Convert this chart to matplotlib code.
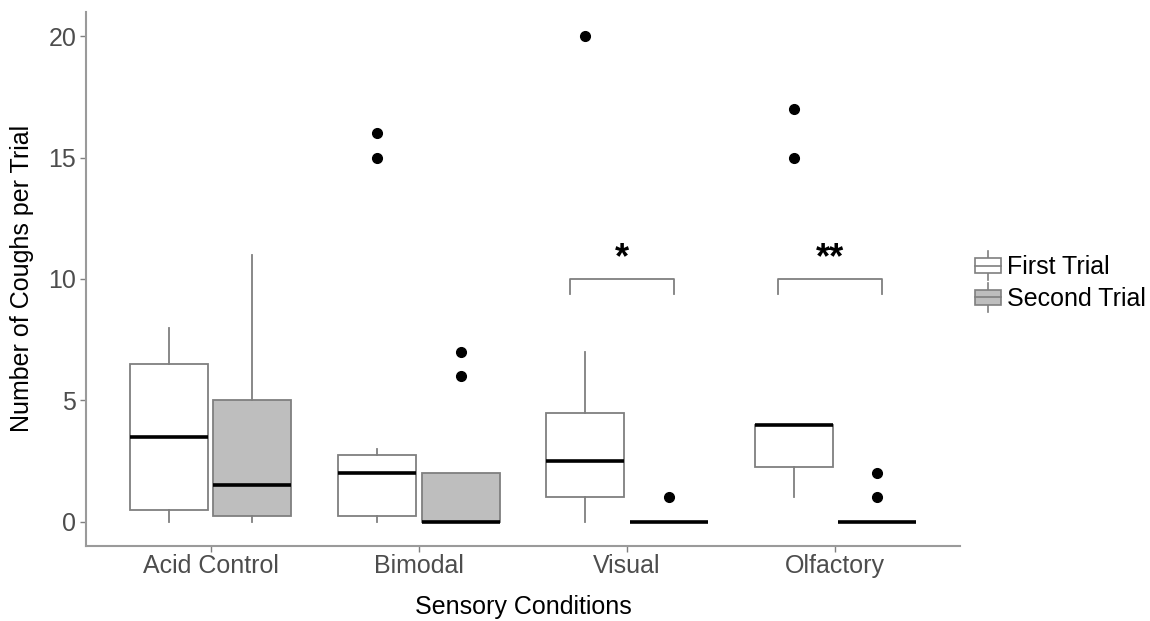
import matplotlib
matplotlib.use("Agg")
import matplotlib.pyplot as plt
from matplotlib.patches import Rectangle
from matplotlib.lines import Line2D
from matplotlib.legend_handler import HandlerBase

plt.rcParams['font.family'] = ['Liberation Sans', 'DejaVu Sans']

categories = ["Acid Control", "Bimodal", "Visual", "Olfactory"]
series = ["First Trial", "Second Trial"]

# box statistics
first_q1 = [0.5, 0.25, 1.0, 2.25]
first_med = [3.5, 2.0, 2.5, 4.0]
first_q3 = [6.5, 2.75, 4.5, 4.0]
first_lo = [0, 0, 0, 1]
first_hi = [8, 3, 7, 4]
first_out = [[], [15, 16], [20], [15, 17]]

second_q1 = [0.25, 0, 0, 0]
second_med = [1.5, 0, 0, 0]
second_q3 = [5.0, 2.0, 0, 0]
second_lo = [0, 0, 0, 0]
second_hi = [11, 2, 0, 0]
second_out = [[], [6, 7], [1], [1, 2]]

sig_categories = ["Visual", "Olfactory"]
sig_labels = ["*", "**"]
sig_height = 10

fills = ["white", "#BEBEBE"]
edge = "#7F7F7F"

fig = plt.figure(figsize=(11.5, 6.21), dpi=100)
ax = fig.add_axes([86/1150, 1 - 546/621, (960-86)/1150, (546-12)/621])

def stats(q1, med, q3, lo, hi, out):
    return [dict(q1=a, med=b, q3=c, whislo=d, whishi=e, fliers=f)
            for a, b, c, d, e, f in zip(q1, med, q3, lo, hi, out)]

xpos = list(range(1, len(categories) + 1))
width = 0.375
dodge = 0.2
groups = [stats(first_q1, first_med, first_q3, first_lo, first_hi, first_out),
          stats(second_q1, second_med, second_q3, second_lo, second_hi, second_out)]
offsets = [-dodge, dodge]
for g, off, fc in zip(groups, offsets, fills):
    ax.bxp(g, positions=[p + off for p in xpos], widths=width, patch_artist=True,
           showcaps=False,
           boxprops=dict(facecolor=fc, edgecolor=edge, linewidth=1.3),
           whiskerprops=dict(color=edge, linewidth=1.3),
           medianprops=dict(color="black", linewidth=2.6, solid_capstyle='butt'),
           flierprops=dict(marker='o', markerfacecolor='black', markeredgecolor='black',
                           markersize=7))

# significance brackets
for cat, lab in zip(sig_categories, sig_labels):
    c = xpos[categories.index(cat)]
    x0, x1 = c - 0.275, c + 0.225
    ax.plot([x0, x0, x1, x1], [sig_height - 0.6, sig_height, sig_height, sig_height - 0.6],
            color=edge, linewidth=1.3)
    ax.text((x0 + x1) / 2, sig_height + 0.1, lab, ha='center', va='bottom',
            fontsize=26, fontweight='bold', color='black')

ax.set_xlim(0.4, 4.6)
ax.set_ylim(-1, 21)
ax.set_xticks(xpos)
ax.set_xticklabels(categories)
ax.set_yticks([0, 5, 10, 15, 20])
ax.tick_params(axis='both', colors='#7F7F7F', labelcolor='#4D4D4D', labelsize=18,
               length=4, width=1.0, pad=3)
ax.tick_params(axis='x', pad=1.5)
for s in ['top', 'right']:
    ax.spines[s].set_visible(False)
for s in ['left', 'bottom']:
    ax.spines[s].set_color('#9A9A9A')
    ax.spines[s].set_linewidth(1.5)

fig.text(523/1150, 1 - 607/621, "Sensory Conditions", ha='center', va='center', fontsize=18)
fig.text(22/1150, 1 - 278/621, "Number of Coughs per Trial", ha='center', va='center',
         rotation=90, fontsize=18)


class BoxHandler(HandlerBase):
    def create_artists(self, legend, orig_handle, xdescent, ydescent, width, height,
                       fontsize, trans):
        fc = orig_handle.get_facecolor()
        x0, y0 = -xdescent, -ydescent
        bh = height * 0.72
        by = y0 + (height - bh) / 2
        rect = Rectangle((x0, by), width, bh, facecolor=fc, edgecolor=edge,
                         linewidth=1.2, transform=trans)
        cx = x0 + width / 2
        med = Line2D([x0, x0 + width], [y0 + height/2]*2, color=edge, linewidth=1.2,
                     transform=trans)
        w1 = Line2D([cx, cx], [by + bh, y0 + height + 3], color=edge, linewidth=1.2,
                    transform=trans)
        w2 = Line2D([cx, cx], [by, y0 - 3], color=edge, linewidth=1.2, transform=trans)
        return [w1, w2, rect, med]

handles = [Rectangle((0, 0), 1, 1, facecolor=f) for f in fills]
fig.legend(handles, series, handler_map={Rectangle: BoxHandler()},
           loc='center left', bbox_to_anchor=(975/1150, 1 - 283/621), frameon=False,
           fontsize=18, handlelength=1.04, handleheight=0.9, handletextpad=0.25,
           labelspacing=0.3, borderaxespad=0, borderpad=0)

fig.savefig("out.png", dpi=100, facecolor='white')
